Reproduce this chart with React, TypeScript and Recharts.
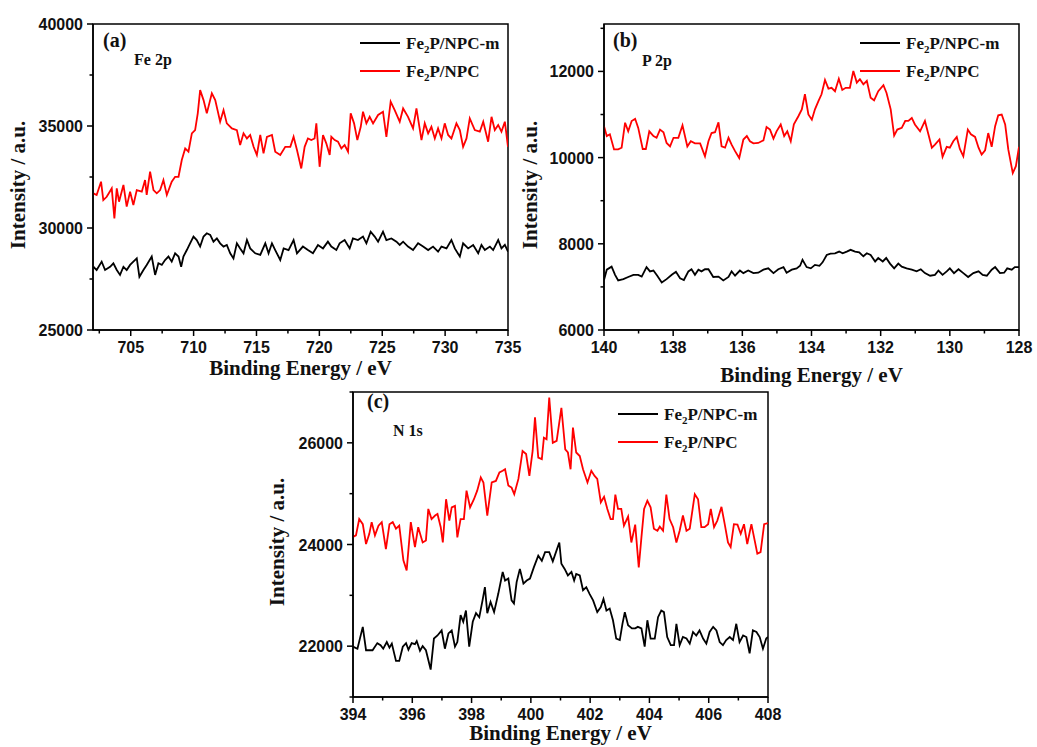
import React from 'react';
import { LineChart, Line, XAxis, YAxis, ReferenceArea, Legend } from 'recharts';

type P = [number, number];

// ---------- Panel (a) Fe 2p ----------
const fe2pNPC: P[] = [
  [702.03,31700],[702.29,31620],[702.64,32270],[702.82,31370],[703.09,31530],[703.49,31940],[703.70,30470],[703.89,31940],[704.07,31290],[704.42,32110],[704.68,31050],[704.95,31780],[705.21,31130],[705.48,31860],[705.88,31780],[706.14,32350],[706.27,31620],[706.54,32760],[706.81,31860],[707.07,31700],[707.34,31860],[707.60,32350],[707.87,31620],[708.26,32270],[708.53,32510],[708.80,32510],[709.06,33330],[709.33,33900],[709.59,33740],[709.86,34640],[710.12,34800],[710.33,35620],[710.52,36760],[710.79,36270],[711.05,35620],[711.45,36600],[711.72,36270],[712.11,35210],[712.38,35780],[712.64,35130],[713.04,34880],[713.44,34800],[713.70,34070],[713.97,34640],[714.24,34390],[714.50,34560],[714.77,33980],[715.03,33580],[715.30,34560],[715.56,33660],[715.83,34470],[716.23,34560],[716.49,33740],[716.89,33580],[717.29,33980],[717.69,33980],[717.95,34470],[718.22,33820],[718.56,32920],[718.83,33980],[719.09,34390],[719.36,34310],[719.62,34390],[719.76,35130],[720.02,33000],[720.29,34560],[720.55,34150],[720.82,33580],[720.95,34470],[721.22,34310],[721.48,34230],[721.75,33900],[722.01,34070],[722.28,33740],[722.49,35620],[722.76,35130],[723.02,34310],[723.29,34960],[723.47,35700],[723.74,35130],[724.00,35450],[724.27,35130],[724.67,35540],[725.06,35700],[725.33,34470],[725.67,36190],[725.99,35780],[726.39,35210],[726.66,35860],[727.05,35450],[727.45,34880],[727.72,35860],[728.12,34310],[728.38,35130],[728.65,34640],[728.91,34960],[729.18,34390],[729.44,34880],[729.71,34390],[729.97,35130],[730.24,34560],[730.50,34390],[730.90,35130],[731.17,34800],[731.43,33980],[731.70,34390],[731.96,35370],[732.36,34800],[732.76,34720],[733.03,35210],[733.42,34230],[733.69,35450],[733.95,34800],[734.22,35050],[734.48,34720],[734.75,35210],[735.00,33980]
];
const fe2pNPCm: P[] = [
  [702.03,28100],[702.29,27940],[702.69,28350],[702.96,27940],[703.36,28100],[703.62,28270],[703.89,27940],[704.15,27700],[704.42,28100],[704.68,27940],[704.95,28190],[705.21,28350],[705.48,28510],[705.69,27610],[706.01,27940],[706.27,28190],[706.67,28600],[706.94,27700],[707.20,28270],[707.47,28190],[707.73,28430],[708.00,28600],[708.26,28350],[708.53,28760],[708.80,28600],[709.01,28100],[709.19,28600],[709.46,28920],[709.72,29250],[709.99,29580],[710.25,29410],[710.52,29090],[710.79,29580],[711.05,29740],[711.32,29660],[711.58,29330],[711.85,29490],[712.11,29250],[712.38,29090],[712.64,29170],[712.91,28760],[713.17,28510],[713.44,29250],[713.70,29000],[713.97,28760],[714.24,29410],[714.50,29000],[714.90,28760],[715.30,28680],[715.70,29250],[715.96,28760],[716.23,29250],[716.49,28920],[716.89,28430],[717.16,29000],[717.55,28920],[717.95,29410],[718.22,28760],[718.69,29090],[719.09,28920],[719.49,28760],[719.89,29170],[720.29,29000],[720.68,29330],[720.95,29090],[721.35,28920],[721.61,29250],[722.01,29410],[722.41,29000],[722.67,29490],[723.07,29410],[723.47,29580],[723.74,29250],[724.08,29820],[724.40,29580],[724.67,29330],[725.06,29820],[725.33,29410],[725.73,29490],[726.13,29330],[726.39,29170],[726.66,29330],[727.05,29090],[727.45,28920],[727.85,29250],[728.25,29090],[728.65,28920],[729.04,29090],[729.44,28840],[729.71,29090],[730.11,29000],[730.50,29410],[730.77,29000],[731.17,28600],[731.43,29250],[731.83,29000],[732.23,29170],[732.63,28760],[732.89,29170],[733.16,28920],[733.56,29090],[733.82,28920],[734.22,29410],[734.48,29000],[734.75,29170],[735.00,28840]
];

// ---------- Panel (b) P 2p ----------
const p2pNPC: P[] = [
  [140.00,10730],[139.92,10500],[139.83,10540],[139.71,10190],[139.59,10190],[139.49,10230],[139.39,10810],[139.30,10610],[139.20,10850],[139.10,10900],[139.01,10690],[138.88,10200],[138.79,10200],[138.69,10610],[138.57,10500],[138.48,10460],[138.38,10650],[138.28,10590],[138.19,10340],[138.09,10260],[137.99,10460],[137.85,10460],[137.73,10750],[137.59,10260],[137.49,10380],[137.37,10330],[137.22,10330],[137.08,10030],[136.98,10380],[136.89,10570],[136.79,10590],[136.69,10820],[136.60,10260],[136.50,10230],[136.40,10460],[136.31,10300],[136.21,10150],[136.09,9990],[135.97,10420],[135.87,10500],[135.78,10380],[135.68,10330],[135.54,10340],[135.39,10400],[135.30,10710],[135.20,10650],[135.10,10440],[135.01,10610],[134.89,10770],[134.79,10500],[134.70,10610],[134.60,10380],[134.51,10770],[134.38,10960],[134.28,11120],[134.19,11470],[134.09,11000],[133.99,10880],[133.90,11120],[133.80,11310],[133.71,11470],[133.61,11800],[133.51,11600],[133.42,11620],[133.32,11540],[133.21,11830],[133.11,11570],[133.01,11620],[132.89,11620],[132.79,12010],[132.69,11740],[132.60,11820],[132.50,11700],[132.40,11780],[132.29,11390],[132.19,11330],[132.07,11540],[131.92,11680],[131.83,11500],[131.71,11120],[131.61,10510],[131.52,10650],[131.39,10690],[131.29,10850],[131.20,10850],[131.10,10920],[131.01,10770],[130.86,10610],[130.72,10850],[130.62,10540],[130.52,10230],[130.43,10300],[130.30,10420],[130.21,10020],[130.09,10250],[130.00,10230],[129.90,10380],[129.80,10480],[129.71,10200],[129.61,10030],[129.48,10650],[129.39,10540],[129.27,10480],[129.17,10230],[129.08,10070],[128.98,10170],[128.89,10570],[128.79,10250],[128.69,10730],[128.60,10980],[128.50,11000],[128.40,10770],[128.31,10190],[128.18,9640],[128.09,9800],[128.00,10250]
];
const p2pNPCm: P[] = [
  [140.00,7160],[139.92,7400],[139.78,7470],[139.68,7280],[139.59,7150],[139.44,7180],[139.30,7230],[139.15,7280],[139.01,7280],[138.91,7240],[138.77,7460],[138.67,7360],[138.57,7380],[138.46,7260],[138.33,7100],[138.19,7180],[138.04,7280],[137.92,7350],[137.80,7200],[137.69,7160],[137.56,7360],[137.47,7410],[137.37,7280],[137.27,7400],[137.18,7360],[137.08,7410],[136.98,7410],[136.84,7230],[136.69,7240],[136.55,7150],[136.40,7230],[136.31,7360],[136.21,7260],[136.07,7380],[135.97,7320],[135.83,7380],[135.68,7320],[135.54,7330],[135.39,7400],[135.25,7430],[135.10,7320],[134.96,7410],[134.81,7460],[134.72,7330],[134.57,7400],[134.43,7430],[134.33,7490],[134.26,7630],[134.14,7460],[134.02,7430],[133.90,7510],[133.77,7490],[133.68,7570],[133.56,7740],[133.45,7770],[133.32,7780],[133.20,7820],[133.10,7780],[132.98,7820],[132.87,7860],[132.74,7820],[132.62,7800],[132.50,7710],[132.40,7780],[132.29,7740],[132.16,7590],[132.07,7670],[131.94,7590],[131.84,7670],[131.73,7540],[131.61,7430],[131.49,7540],[131.39,7470],[131.25,7430],[131.10,7400],[130.96,7360],[130.84,7410],[130.72,7320],[130.57,7260],[130.43,7280],[130.33,7380],[130.21,7280],[130.09,7360],[130.00,7430],[129.88,7320],[129.75,7410],[129.61,7320],[129.47,7230],[129.32,7320],[129.17,7360],[129.05,7280],[128.93,7260],[128.79,7400],[128.69,7460],[128.55,7320],[128.43,7330],[128.34,7430],[128.21,7400],[128.12,7460],[128.00,7460]
];

// ---------- Panel (c) N 1s ----------
const n1sNPC: P[] = [
  [394.00,24150],[394.10,24180],[394.21,24500],[394.33,24400],[394.44,24010],[394.55,24210],[394.63,24440],[394.74,24180],[394.86,24370],[394.97,24440],[395.11,23910],[395.23,24400],[395.34,24440],[395.45,24310],[395.56,24370],[395.70,23690],[395.81,23490],[395.95,24440],[396.09,23950],[396.20,24340],[396.35,24040],[396.46,24080],[396.54,24700],[396.65,24500],[396.77,24570],[396.85,24600],[396.96,24340],[397.03,24040],[397.14,24890],[397.25,24470],[397.33,24730],[397.44,24760],[397.52,24140],[397.63,24500],[397.74,24500],[397.83,25060],[397.95,24730],[398.08,24890],[398.19,25060],[398.31,25320],[398.40,25220],[398.53,24570],[398.68,25220],[398.82,25250],[398.94,25420],[399.05,25450],[399.13,25480],[399.24,25160],[399.35,25120],[399.44,24990],[399.58,25290],[399.72,25840],[399.84,25780],[399.95,25350],[400.06,25840],[400.14,26500],[400.25,25710],[400.37,25680],[400.44,26100],[400.53,26070],[400.62,26890],[400.74,26000],[400.87,26040],[401.03,26690],[401.16,25870],[401.25,25810],[401.34,25480],[401.42,26300],[401.53,25810],[401.65,25740],[401.76,25480],[401.91,25220],[402.04,25450],[402.15,25350],[402.24,25290],[402.36,24830],[402.47,24940],[402.58,24700],[402.69,24500],[402.77,24500],[402.85,24980],[402.94,24700],[403.05,24700],[403.14,24370],[403.28,24550],[403.39,24040],[403.52,24390],[403.64,23550],[403.73,24140],[403.82,24700],[403.93,24860],[404.04,24730],[404.15,24310],[404.27,24270],[404.35,24350],[404.46,24270],[404.57,24980],[404.68,24500],[404.80,24340],[404.91,24040],[405.02,24270],[405.13,24570],[405.25,24270],[405.36,24310],[405.53,24990],[405.64,24890],[405.75,24340],[405.86,24340],[405.98,24400],[406.07,24700],[406.18,24340],[406.29,24470],[406.43,24740],[406.54,24400],[406.65,24040],[406.74,23950],[406.85,24400],[406.97,24390],[407.08,24210],[407.19,24400],[407.30,24010],[407.44,24400],[407.55,24080],[407.64,23820],[407.75,23850],[407.87,24400],[408.00,24420]
];
const n1sNPCm: P[] = [
  [394.00,21990],[394.15,21950],[394.33,22380],[394.44,21920],[394.55,21920],[394.66,21920],[394.82,22060],[394.93,22020],[395.02,21950],[395.14,22080],[395.23,21970],[395.31,22050],[395.45,21710],[395.56,21710],[395.68,21990],[395.79,22060],[395.87,21930],[395.98,22060],[396.09,22040],[396.15,22100],[396.26,21910],[396.35,22000],[396.46,21920],[396.62,21540],[396.73,22150],[396.85,22210],[396.99,22310],[397.10,21950],[397.22,22250],[397.33,22310],[397.44,21990],[397.52,22080],[397.63,22610],[397.72,22480],[397.81,22700],[397.92,21990],[398.04,22480],[398.15,22650],[398.26,22570],[398.37,22900],[398.45,23160],[398.53,22650],[398.64,22870],[398.76,22670],[398.90,23030],[399.05,23460],[399.13,23290],[399.24,23330],[399.35,22900],[399.43,22840],[399.52,23260],[399.63,23520],[399.75,23230],[399.86,23290],[399.97,23330],[400.10,23550],[400.25,23780],[400.37,23680],[400.48,23850],[400.62,23850],[400.74,23670],[400.87,23890],[400.96,24040],[401.03,23620],[401.14,23520],[401.25,23390],[401.37,23460],[401.46,23290],[401.53,23420],[401.65,23390],[401.76,23100],[401.87,23160],[401.98,23030],[402.10,22900],[402.24,22670],[402.36,22770],[402.45,22930],[402.55,22700],[402.66,22740],[402.77,22510],[402.88,22150],[403.00,22120],[403.09,22440],[403.17,22670],[403.28,22410],[403.41,22350],[403.52,22350],[403.61,22380],[403.73,22350],[403.84,21990],[403.93,22510],[404.04,22150],[404.18,22150],[404.29,22570],[404.40,22700],[404.49,22670],[404.60,22180],[404.72,22020],[404.83,22020],[404.91,22440],[405.02,22020],[405.13,22180],[405.25,22150],[405.36,22050],[405.47,22280],[405.58,22210],[405.69,22310],[405.81,22150],[405.92,22050],[406.03,22280],[406.15,22380],[406.26,22310],[406.37,22080],[406.48,22020],[406.59,22120],[406.71,22180],[406.82,22120],[406.93,22440],[407.04,22080],[407.16,22210],[407.27,22180],[407.38,21860],[407.49,22310],[407.61,22280],[407.72,22180],[407.83,21950],[407.94,22150],[408.00,22180]
];

// ---------- ticks ----------
const aXTicks = [702.5, 705, 707.5, 710, 712.5, 715, 717.5, 720, 722.5, 725, 727.5, 730, 732.5, 735];
const aXMajor = [705, 710, 715, 720, 725, 730, 735];
const aYTicks = [25000, 27500, 30000, 32500, 35000, 37500, 40000];
const aYMajor = [25000, 30000, 35000, 40000];

const bXTicks = [140, 139, 138, 137, 136, 135, 134, 133, 132, 131, 130, 129, 128];
const bXMajor = [140, 138, 136, 134, 132, 130, 128];
const bYTicks = [6000, 7000, 8000, 9000, 10000, 11000, 12000, 13000];
const bYMajor = [6000, 8000, 10000, 12000];

const cXTicks = [394, 395, 396, 397, 398, 399, 400, 401, 402, 403, 404, 405, 406, 407, 408];
const cXMajor = [394, 396, 398, 400, 402, 404, 406, 408];
const cYTicks = [21000, 22000, 23000, 24000, 25000, 26000, 27000];
const cYMajor = [22000, 24000, 26000];

const seriesNames = ['Fe2P/NPC-m', 'Fe2P/NPC'];

const SANS = '"Liberation Sans", Arial, Helvetica, sans-serif';
const SERIF = '"Liberation Serif", "Times New Roman", Times, serif';

const toData = (arr: P[]) => arr.map(([x, y]) => ({ x, y }));
const isIn = (v: number, list: number[]) => list.some((m) => Math.abs(m - v) < 1e-6);

const makeXTick = (major: number[]) => (props: any) => {
  const { x, y, payload } = props;
  const mj = isIn(payload.value, major);
  return (
    <g>
      <line x1={x} x2={x} y1={y} y2={y + (mj ? 6 : 3.5)} stroke="#000" strokeWidth={1.5} />
      {mj && (
        <text x={x} y={y + 23} textAnchor="middle" fontFamily={SANS} fontSize={16} fontWeight={700} fill="#111">
          {payload.value}
        </text>
      )}
    </g>
  );
};

const makeYTick = (major: number[]) => (props: any) => {
  const { x, y, payload } = props;
  const mj = isIn(payload.value, major);
  return (
    <g>
      <line x1={x} x2={x - (mj ? 6 : 3.5)} y1={y} y2={y} stroke="#000" strokeWidth={1.5} />
      {mj && (
        <text x={x - 10} y={y + 6} textAnchor="end" fontFamily={SANS} fontSize={16} fontWeight={700} fill="#111">
          {payload.value}
        </text>
      )}
    </g>
  );
};

const renderLegend = (props: any) => {
  const payload = [...(props.payload || [])].sort(
    (a: any, b: any) => seriesNames.indexOf(String(a.value)) - seriesNames.indexOf(String(b.value))
  );
  return (
    <svg width={180} height={56} style={{ display: 'block', overflow: 'visible' }}>
      {payload.map((p: any, i: number) => {
        const cy = 10 + i * 28;
        const name = String(p.value);
        const idx = name.indexOf('2');
        return (
          <g key={i}>
            <line x1={0} x2={40} y1={cy} y2={cy} stroke={p.color} strokeWidth={2} />
            <text x={46} y={cy + 6} fontFamily={SERIF} fontSize={17} fontWeight={700} fill="#111">
              {name.slice(0, idx)}
              <tspan fontSize={11} dy={4}>2</tspan>
              <tspan dy={-4}>{name.slice(idx + 1)}</tspan>
            </text>
          </g>
        );
      })}
    </svg>
  );
};

interface PanelProps {
  left: number; top: number; width: number; height: number;
  margin: { top: number; right: number; bottom: number; left: number };
  xDomain: [number, number]; yDomain: [number, number];
  xTicks: number[]; xMajor: number[]; yTicks: number[]; yMajor: number[];
  reversed?: boolean;
  black: P[]; red: P[];
  legendLeft: number; legendTop: number;
}

function Panel(p: PanelProps) {
  const axisLine = { stroke: '#000', strokeWidth: 1.5 };
  return (
    <div style={{ position: 'absolute', left: p.left, top: p.top }}>
      <LineChart width={p.width} height={p.height} margin={p.margin}>
        <XAxis
          dataKey="x"
          type="number"
          domain={p.xDomain}
          allowDataOverflow
          reversed={p.reversed}
          ticks={p.xTicks}
          interval={0}
          tickSize={0}
          tickMargin={0}
          tickLine={false}
          axisLine={axisLine}
          tick={makeXTick(p.xMajor)}
          height={30}
        />
        <YAxis
          type="number"
          domain={p.yDomain}
          allowDataOverflow
          ticks={p.yTicks}
          interval={0}
          tickSize={0}
          tickMargin={0}
          tickLine={false}
          axisLine={axisLine}
          tick={makeYTick(p.yMajor)}
          width={60}
        />
        <ReferenceArea
          x1={p.xDomain[0]} x2={p.xDomain[1]} y1={p.yDomain[0]} y2={p.yDomain[1]}
          fill="none" fillOpacity={0} stroke="#000" strokeWidth={1.5} ifOverflow="extendDomain"
        />
        <Legend
          layout="vertical" align="center" verticalAlign="middle"
          content={renderLegend}
          wrapperStyle={{ left: p.legendLeft, top: p.legendTop, width: 180, height: 56 }}
        />
        <Line data={toData(p.black)} dataKey="y" name={seriesNames[0]} stroke="#000" strokeWidth={1.8} dot={false} isAnimationActive={false} type="linear" />
        <Line data={toData(p.red)} dataKey="y" name={seriesNames[1]} stroke="#ff0000" strokeWidth={1.8} dot={false} isAnimationActive={false} type="linear" />
      </LineChart>
    </div>
  );
}

const overlayTexts = [
  { x: 103, y: 47, s: 20, t: '(a)' },
  { x: 134, y: 65, s: 16, t: 'Fe 2p' },
  { x: 613, y: 47, s: 20, t: '(b)' },
  { x: 642, y: 66, s: 16, t: 'P 2p' },
  { x: 367, y: 408, s: 20, t: '(c)' },
  { x: 393, y: 436, s: 16, t: 'N 1s' },
];
const xTitles = [
  { x: 300.5, y: 375 },
  { x: 811.5, y: 382 },
  { x: 560.5, y: 740 },
];
const yTitles = [
  { x: 25, y: 185 },
  { x: 537, y: 185 },
  { x: 284, y: 542 },
];

export default function App() {
  return (
    <div style={{ position: 'absolute', left: 0, top: 0, width: 1037, height: 747, background: '#fff', overflow: 'hidden' }}>
      <Panel
        left={0} top={0} width={530} height={390}
        margin={{ top: 24, right: 22, bottom: 30, left: 33 }}
        xDomain={[702, 735]} yDomain={[25000, 40000]}
        xTicks={aXTicks} xMajor={aXMajor} yTicks={aYTicks} yMajor={aYMajor}
        black={fe2pNPCm} red={fe2pNPC}
        legendLeft={360} legendTop={33}
      />
      <Panel
        left={540} top={0} width={497} height={390}
        margin={{ top: 24, right: 18, bottom: 30, left: 4 }}
        xDomain={[128, 140]} yDomain={[6000, 13100]} reversed
        xTicks={bXTicks} xMajor={bXMajor} yTicks={bYTicks} yMajor={bYMajor}
        black={p2pNPCm} red={p2pNPC}
        legendLeft={320} legendTop={33}
      />
      <Panel
        left={290} top={380} width={520} height={367}
        margin={{ top: 12, right: 42, bottom: 20, left: 3 }}
        xDomain={[394, 408]} yDomain={[21000, 27000]}
        xTicks={cXTicks} xMajor={cXMajor} yTicks={cYTicks} yMajor={cYMajor}
        black={n1sNPCm} red={n1sNPC}
        legendLeft={328} legendTop={23.5}
      />
      <svg width={1037} height={747} style={{ position: 'absolute', left: 0, top: 0, pointerEvents: 'none' }}>
        {overlayTexts.map((o, i) => (
          <text key={i} x={o.x} y={o.y} fontFamily={SERIF} fontSize={o.s} fontWeight={700} fill="#111" style={{ whiteSpace: 'pre' }}>
            {o.t}
          </text>
        ))}
        {xTitles.map((o, i) => (
          <text key={'x' + i} x={o.x} y={o.y} textAnchor="middle" fontFamily={SERIF} fontSize={21} fontWeight={700} fill="#111">
            Binding Energy / eV
          </text>
        ))}
        {yTitles.map((o, i) => (
          <text key={'y' + i} x={o.x} y={o.y} textAnchor="middle" fontFamily={SERIF} fontSize={21} fontWeight={700} fill="#111" transform={`rotate(-90 ${o.x} ${o.y})`}>
            Intensity / a.u.
          </text>
        ))}
      </svg>
    </div>
  );
}
